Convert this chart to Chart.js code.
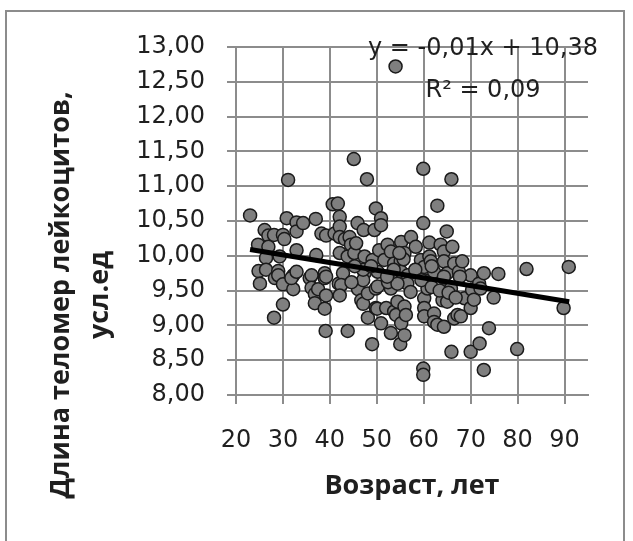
<!DOCTYPE html>
<html>
<head>
<meta charset="utf-8">
<script src="https://cdn.jsdelivr.net/npm/chart.js@4/dist/chart.umd.min.js"></script>
<style>
  html, body { margin: 0; padding: 0; background: #fff; }
  #wrap { width: 633px; height: 541px; }
</style>
</head>
<body>
<div id="wrap"><canvas id="telomereChart" width="633" height="541"></canvas></div>
<script>
// Age (years) and leukocyte telomere length
const ages = [
  23.0, 24.7, 24.8, 25.1, 26.1, 26.9, 26.9, 26.4, 26.4, 28.1, 28.1, 28.3, 30.0, 30.3, 29.3,
  29.0, 29.0, 30.0, 30.0, 30.8, 31.1, 32.9, 32.9, 32.9, 32.2, 32.2, 31.8, 32.9, 34.3,
  35.7, 36.1, 36.1, 36.8, 36.8, 37.0, 37.1, 37.5, 38.2, 38.9, 38.9, 38.9, 39.2, 39.2, 39.2,
  39.1, 40.6, 41.7, 41.0, 41.9, 42.1, 42.1, 42.1, 42.1, 42.8, 42.4, 42.1, 43.2, 43.8, 43.8,
  44.2, 44.5,
  45.1, 45.9, 45.2, 45.6, 46.0, 46.7, 47.2, 47.4, 47.4, 47.1, 47.9, 48.1, 48.1, 49.5, 49.8,
  49.1, 49.8, 49.8, 49.0,
  50.9, 50.9, 50.5, 50.2, 50.2, 50.9, 50.1, 51.6, 52.0, 52.3, 53.0, 53.7, 53.0, 53.7, 53.0,
  54.1, 54.4, 54.0, 55.2, 55.1, 55.2, 55.9, 55.9, 55.2, 55.0, 55.9,
  56.6, 56.2, 57.3, 58.3, 59.4, 59.9, 59.9, 59.9, 59.9, 60.1, 60.1, 60.1, 60.1, 60.1, 60.8,
  61.2, 61.2, 61.5, 62.2, 62.2, 62.2, 62.9, 62.9, 63.6, 64.3, 64.3, 64.9, 64.0, 64.0, 64.3,
  65.0, 65.0, 65.8, 65.9, 65.9, 66.1, 66.5, 66.5, 67.5, 67.2, 67.9, 68.2, 68.7,
  70.0, 70.0, 70.3, 70.7, 70.0, 71.8, 72.1, 71.9, 72.8, 72.8, 73.9, 74.9, 75.9, 79.9, 81.9,
  90.9, 89.8,
  56.5, 57.2, 52.4, 47.1, 44.6, 47.1, 48.8, 45.3, 58.2, 59.5, 61.7, 63.4, 65.3, 66.8, 67.7,
  64.3, 61.7, 54.4, 53.6, 52.2, 55.7, 54.8
];
const lengths = [
  10.58, 10.16, 9.78, 9.60, 10.37, 10.29, 10.13, 9.97, 9.80, 10.30, 9.11, 9.68, 10.30, 10.24, 9.99,
  9.78, 9.72, 9.59, 9.30, 10.54, 11.09, 10.48, 10.35, 10.08, 9.72, 9.52, 9.68, 9.77, 10.47,
  9.68, 9.72, 9.54, 9.45, 9.32, 10.53, 10.01, 9.52, 10.32, 9.75, 9.68, 9.24, 10.29, 9.70, 9.43,
  8.92, 10.74, 10.75, 10.32, 9.60, 10.56, 10.42, 10.27, 10.04, 9.75, 9.58, 9.43, 10.24, 9.99, 8.92,
  10.27, 10.16,
  11.39, 10.47, 10.04, 10.18, 9.52, 9.36, 10.37, 9.99, 9.75, 9.31, 11.10, 9.46, 9.11, 10.37, 10.68,
  9.94, 9.53, 9.25, 8.73,
  10.54, 10.44, 10.08, 9.77, 9.56, 9.03, 9.24, 9.94, 9.25, 10.16, 10.06, 9.89, 9.53, 9.20, 8.89,
  9.15, 9.34, 12.72, 10.20, 9.92, 9.77, 10.04, 9.27, 9.03, 8.73, 8.86,
  9.72, 9.15, 10.27, 10.13, 9.94, 11.25, 10.47, 8.38, 8.29, 9.84, 9.65, 9.39, 9.25, 9.13, 9.53,
  10.19, 9.99, 9.92, 9.77, 9.17, 9.05, 10.72, 9.01, 10.16, 10.06, 9.92, 10.35, 9.51, 9.36, 8.98,
  9.75, 9.34, 9.53, 11.10, 8.62, 10.13, 9.89, 9.10, 9.77, 9.15, 9.13, 9.92, 9.39,
  9.72, 9.25, 9.51, 9.37, 8.62, 9.60, 9.53, 8.74, 9.75, 8.36, 8.96, 9.40, 9.74, 8.66, 9.81,
  9.84, 9.25,
  9.60, 9.48, 9.62, 9.65, 9.62, 9.80, 9.85, 9.85, 9.80, 9.65, 9.55, 9.50, 9.47, 9.40, 9.70,
  9.70, 9.85, 9.60, 9.80, 9.70, 9.95, 10.04
];

// linear trend line end points
const trendAges = [23, 91];
const trendLengths = [10.09, 9.34];

const xTicks = [20, 30, 40, 50, 60, 70, 80, 90];
const yTicks = [8, 8.5, 9, 9.5, 10, 10.5, 11, 11.5, 12, 12.5, 13];

const equationLines = ['y = -0,01x + 10,38', 'R² = 0,09'];
const xTitle = 'Возраст, лет';
const yTitleLines = ['Длина теломер лейкоцитов,', 'усл.ед'];

document.addEventListener('DOMContentLoaded', function () {
  const gridColor = '#8c8c8c';
  const textColor = '#1f1f1f';

  const points = ages.map((a, i) => ({ x: a, y: lengths[i] }));
  const trend = trendAges.map((a, i) => ({ x: a, y: trendLengths[i] }));

  // frame, axis titles and the trend equation
  const decorations = {
    id: 'decorations',
    beforeDraw(chart) {
      const ctx = chart.ctx;
      ctx.save();
      ctx.fillStyle = '#fff';
      ctx.fillRect(0, 0, chart.width, chart.height);
      ctx.strokeStyle = '#8c8c8c';
      ctx.lineWidth = 2;
      ctx.strokeRect(6, 11, 618, 600);
      ctx.restore();
    },
    afterDraw(chart) {
      const ctx = chart.ctx;
      const area = chart.chartArea;
      ctx.save();
      ctx.fillStyle = textColor;

      ctx.font = '24px "DejaVu Sans"';
      ctx.textAlign = 'center';
      ctx.textBaseline = 'alphabetic';
      ctx.fillText(equationLines[0], 483, 55);
      ctx.fillText(equationLines[1], 483, 97);

      ctx.font = 'bold 27px "Open Sans"';
      ctx.fillText(xTitle, (area.left + area.right) / 2, 494);

      ctx.translate(69, 295);
      ctx.rotate(-Math.PI / 2);
      ctx.fillText(yTitleLines[0], 0, 0);
      ctx.fillText(yTitleLines[1], 0, 39);
      ctx.restore();
    }
  };

  const ctx = document.getElementById('telomereChart').getContext('2d');
  new Chart(ctx, {
    type: 'scatter',
    data: {
      datasets: [{
        data: trend,
        showLine: true,
        borderColor: '#000',
        borderWidth: 5,
        pointRadius: 0,
        order: 0
      }, {
        data: points,
        backgroundColor: '#7f7f7f',
        borderColor: '#1a1a1a',
        borderWidth: 1.5,
        pointRadius: 6.5,
        order: 1
      }]
    },
    options: {
      responsive: false,
      animation: false,
      layout: { padding: { left: 0, top: 47, right: 45, bottom: 0 } },
      plugins: { legend: { display: false }, tooltip: { enabled: false } },
      scales: {
        x: {
          type: 'linear',
          min: 20,
          max: 95,
          afterBuildTicks: (scale) => { scale.ticks = xTicks.map(v => ({ value: v })); },
          afterFit: (scale) => { scale.height = 146; },
          grid: { color: gridColor, lineWidth: 2, tickLength: 9 },
          border: { color: gridColor, width: 2 },
          ticks: {
            padding: 22,
            color: textColor,
            font: { family: 'DejaVu Sans', size: 24 },
            maxRotation: 0
          }
        },
        y: {
          min: 8,
          max: 13,
          afterBuildTicks: (scale) => { scale.ticks = yTicks.map(v => ({ value: v })); },
          afterFit: (scale) => { scale.width = 236; },
          grid: { color: gridColor, lineWidth: 2, tickLength: 9 },
          border: { color: gridColor, width: 2 },
          ticks: {
            padding: 22,
            color: textColor,
            font: { family: 'DejaVu Sans', size: 24 },
            callback: (v) => v.toFixed(2).replace('.', ',')
          }
        }
      }
    },
    plugins: [decorations]
  });
});
</script>
</body>
</html>
